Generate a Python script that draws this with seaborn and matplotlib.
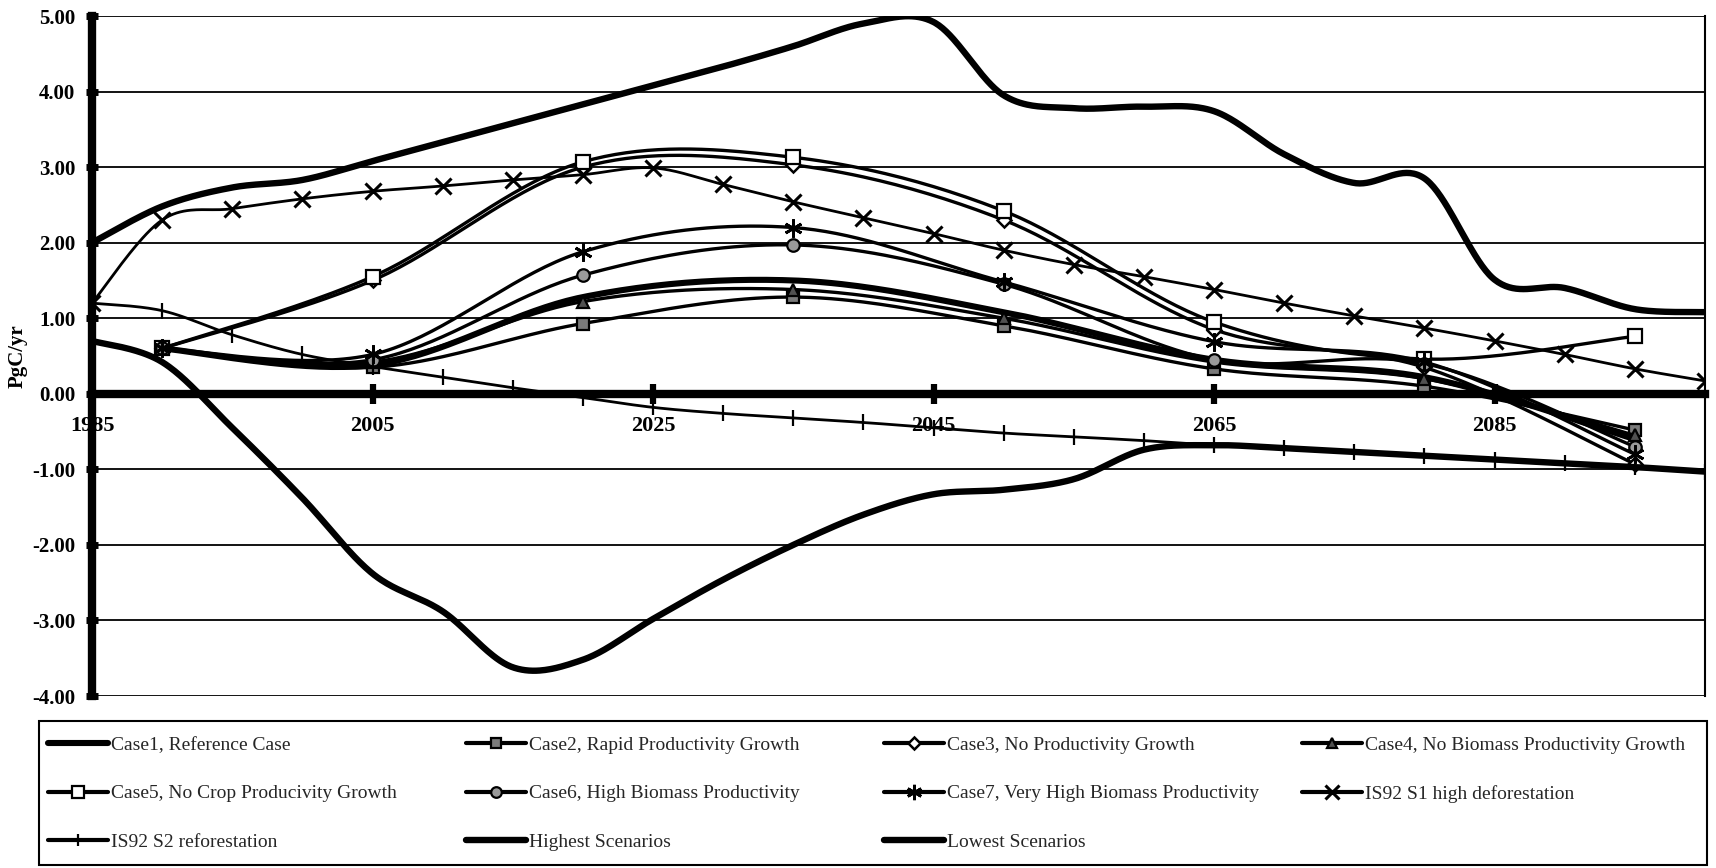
import numpy as np
import pandas as pd
import matplotlib
matplotlib.use("Agg")
import matplotlib.pyplot as plt
from matplotlib.lines import Line2D
from matplotlib.patches import Rectangle
import seaborn as sns

# ---- data (PgC/yr) ----
case_years = [1990, 2005, 2020, 2035, 2050, 2065, 2080, 2095]
case1 = [0.60, 0.38, 1.28, 1.50, 1.08, 0.45, 0.22, -0.60]
case2 = [0.60, 0.35, 0.93, 1.28, 0.90, 0.33, 0.10, -0.48]
case3 = [0.60, 1.50, 3.00, 3.03, 2.30, 0.85, 0.35, -0.93]
case4 = [0.60, 0.42, 1.22, 1.38, 1.00, 0.42, 0.20, -0.55]
case5 = [0.60, 1.55, 3.07, 3.13, 2.42, 0.95, 0.46, 0.76]
case6 = [0.60, 0.45, 1.57, 1.97, 1.45, 0.45, 0.40, -0.70]
case7 = [0.60, 0.52, 1.88, 2.20, 1.48, 0.69, 0.42, -0.80]

five_years = list(range(1985, 2101, 5))
is92_s1 = [1.20, 2.30, 2.45, 2.58, 2.68, 2.75, 2.83, 2.90, 2.99, 2.77, 2.54, 2.33,
           2.12, 1.90, 1.71, 1.55, 1.38, 1.20, 1.03, 0.87, 0.70, 0.52, 0.33, 0.17]
is92_s2 = [1.20, 1.10, 0.78, 0.52, 0.36, 0.22, 0.08, -0.05, -0.18, -0.26, -0.32, -0.38,
           -0.45, -0.52, -0.57, -0.62, -0.68, -0.72, -0.77, -0.82, -0.87, -0.92, -0.97, -1.03]
highest = [2.00, 2.48, 2.73, 2.83, 3.08, 3.33, 3.58, 3.83, 4.08, 4.33, 4.60, 4.90,
           4.92, 3.95, 3.78, 3.80, 3.74, 3.17, 2.79, 2.85, 1.51, 1.40, 1.12, 1.08]
lowest = [0.70, 0.42, -0.45, -1.38, -2.38, -2.88, -3.62, -3.52, -2.98, -2.46, -2.00, -1.60,
          -1.33, -1.27, -1.13, -0.74, -0.68, -0.72, -0.77, -0.82, -0.87, -0.92, -0.97, -1.03]

x_ticks = [1985, 2005, 2025, 2045, 2065, 2085]
y_ticks = [-4, -3, -2, -1, 0, 1, 2, 3, 4, 5]


def smooth(x, y, n=40):
    """Smoothed line through the points (cubic Bezier, Catmull-Rom tangents)."""
    p = np.column_stack([x, y]).astype(float)
    ext = np.vstack([p[0], p, p[-1]])
    t = np.linspace(0, 1, n)[:, None]
    parts = []
    for i in range(len(p) - 1):
        p0, p1, p2, p3 = ext[i], ext[i + 1], ext[i + 2], ext[i + 3]
        c1 = p1 + (p2 - p0) / 6.0
        c2 = p2 - (p3 - p1) / 6.0
        seg = ((1 - t) ** 3) * p1 + 3 * ((1 - t) ** 2) * t * c1 \
            + 3 * (1 - t) * t ** 2 * c2 + t ** 3 * p2
        parts.append(seg if i == 0 else seg[1:])
    s = np.vstack(parts)
    return s[:, 0], s[:, 1]


sns.set_theme(style="white")
plt.rcParams["font.family"] = ["Liberation Serif", "DejaVu Serif"]
plt.rcParams["axes.unicode_minus"] = False

W, H = 1716, 868
fig = plt.figure(figsize=(W / 100, H / 100), dpi=100)
fig.patch.set_facecolor("white")
ax = fig.add_axes([92 / W, 1 - 696 / H, 1613 / W, 680 / H])
ax.set_facecolor("white")

# label, x, y, line width, marker, marker size, face colour, marker edge width
series = [
    ("Case1, Reference Case", case_years, case1, 4.4, None, 0, "black", 1.0),
    ("Case2, Rapid Productivity Growth", case_years, case2, 2.4, "s", 9, "#7a7a7a", 1.6),
    ("Case3, No Productivity Growth", case_years, case3, 2.4, "D", 7, "white", 1.8),
    ("Case4, No Biomass Productivity Growth", case_years, case4, 2.4, "^", 9, "#505050", 1.6),
    ("Case5, No Crop Producivity Growth", case_years, case5, 2.4, "s", 10, "white", 1.6),
    ("Case6, High Biomass Productivity", case_years, case6, 2.4, "o", 9, "#9a9a9a", 1.6),
    ("Case7, Very High Biomass Productivity", case_years, case7, 2.4, (6, 2, 0), 13, "black", 2.0),
    ("IS92 S1 high deforestation", five_years, is92_s1, 2.0, "x", 12, "black", 2.2),
    ("IS92 S2 reforestation", five_years, is92_s2, 2.0, "|", 11, "black", 1.6),
    ("Highest Scenarios", five_years, highest, 4.6, None, 0, "black", 1.0),
    ("Lowest Scenarios", five_years, lowest, 4.6, None, 0, "black", 1.0),
]

handles = {}
for k, (label, xs, ys, lw, mk, ms, fc, mew) in enumerate(series):
    sx, sy = smooth(xs, ys)
    sns.lineplot(x=sx, y=sy, ax=ax, color="black", linewidth=lw, sort=False,
                 estimator=None, zorder=3 + k, legend=False)
    if mk is not None:
        ax.plot(xs, ys, linestyle="none", marker=mk, markersize=ms,
                markerfacecolor=fc, markeredgecolor="black", markeredgewidth=mew,
                zorder=3 + k)
    handles[label] = Line2D([], [], color="black", linewidth=lw if mk is None else 3.0,
                            marker=mk if mk is not None else "", markersize=ms * 0.85,
                            markerfacecolor=fc, markeredgecolor="black",
                            markeredgewidth=mew)

# axes frame: thick y axis at 1985 and thick x axis along zero
ax.set_xlim(1985, 2100)
ax.set_ylim(-4, 5)
ax.spines["top"].set_visible(False)
ax.spines["left"].set_linewidth(6)
ax.spines["left"].set_color("black")
ax.spines["bottom"].set_position(("data", 0))
ax.spines["bottom"].set_linewidth(6)
ax.spines["bottom"].set_color("black")
ax.spines["bottom"].set_zorder(2.5)
ax.spines["right"].set_linewidth(1.5)
ax.spines["right"].set_color("black")

ax.set_yticks(y_ticks)
ax.set_yticklabels([f"{v:.2f}" for v in y_ticks])
ax.set_xticks(x_ticks)
ax.set_xticklabels([str(v) for v in x_ticks])
ax.yaxis.grid(True, color="black", linewidth=1.3)
ax.xaxis.grid(False)
ax.set_axisbelow(True)

ax.tick_params(axis="y", direction="inout", length=9, width=5, pad=7.5,
               labelsize=15, colors="black", left=True)
ax.tick_params(axis="x", direction="inout", length=14, width=4.5, pad=9,
               labelsize=16, colors="black", bottom=True)
for lab in ax.get_yticklabels() + ax.get_xticklabels():
    lab.set_fontweight("bold")

ax.set_ylabel("PgC/yr", fontsize=15, fontweight="bold", color="black")
ax.yaxis.set_label_coords(-0.0397, 0.5)

# legend: four equally spaced columns inside one box
columns = [
    ["Case1, Reference Case", "Case5, No Crop Producivity Growth", "IS92 S2 reforestation"],
    ["Case2, Rapid Productivity Growth", "Case6, High Biomass Productivity", "Highest Scenarios"],
    ["Case3, No Productivity Growth", "Case7, Very High Biomass Productivity", "Lowest Scenarios"],
    ["Case4, No Biomass Productivity Growth", "IS92 S1 high deforestation"],
]
col_x = [48, 466, 884, 1302]
for cx, labels in zip(col_x, columns):
    fig.legend([handles[l] for l in labels], labels, loc="upper left",
               bbox_to_anchor=(cx / W, 1 - 736 / H), frameon=False,
               fontsize=14, handlelength=3.1, handletextpad=0.12,
               labelspacing=1.6, borderpad=0, borderaxespad=0)
fig.add_artist(Rectangle((39 / W, 1 - 865 / H), 1668 / W, 144 / H,
                         transform=fig.transFigure, fill=False,
                         edgecolor="black", linewidth=1.5))

fig.savefig("out.png", dpi=100, facecolor="white")
